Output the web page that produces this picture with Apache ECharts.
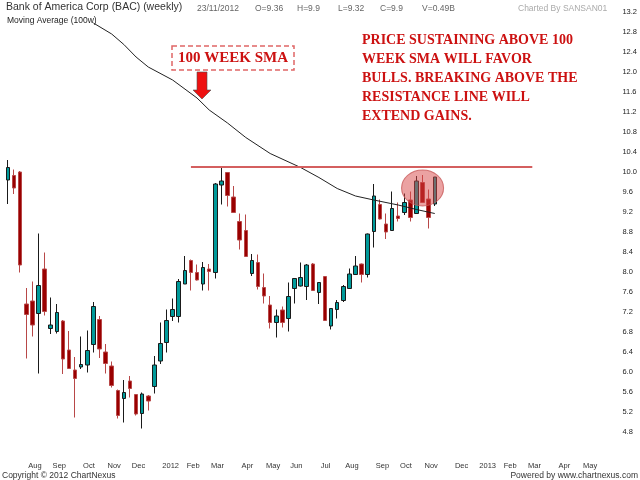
<!DOCTYPE html>
<html><head><meta charset="utf-8">
<script src="https://cdn.jsdelivr.net/npm/echarts@6/dist/echarts.min.js"></script>
<style>html,body{margin:0;padding:0;background:#fff}#c{width:640px;height:480px}</style>
</head><body><div id="c"></div>
<script>
// weekly categories (week-ending Friday)
const weeks = [
'2011-07-22','2011-07-29','2011-08-05','2011-08-12','2011-08-19','2011-08-26','2011-09-02','2011-09-09','2011-09-16','2011-09-23','2011-09-30','2011-10-07','2011-10-14','2011-10-21','2011-10-28','2011-11-04','2011-11-11','2011-11-18','2011-11-25','2011-12-02','2011-12-09','2011-12-16','2011-12-23','2011-12-30',
'2012-01-06','2012-01-13','2012-01-20','2012-01-27','2012-02-03','2012-02-10','2012-02-17','2012-02-24','2012-03-02','2012-03-09','2012-03-16','2012-03-23','2012-03-30','2012-04-06','2012-04-13','2012-04-20','2012-04-27','2012-05-04','2012-05-11','2012-05-18','2012-05-25','2012-06-01','2012-06-08','2012-06-15','2012-06-22','2012-06-29','2012-07-06','2012-07-13','2012-07-20','2012-07-27','2012-08-03','2012-08-10','2012-08-17','2012-08-24','2012-08-31','2012-09-07','2012-09-14','2012-09-21','2012-09-28','2012-10-05','2012-10-12','2012-10-19','2012-10-26','2012-11-02','2012-11-09','2012-11-16','2012-11-23','2012-11-30','2012-12-07','2012-12-14','2012-12-21','2012-12-28',
'2013-01-04','2013-01-11','2013-01-18','2013-01-25','2013-02-01','2013-02-08','2013-02-15','2013-02-22','2013-03-01','2013-03-08','2013-03-15','2013-03-22','2013-03-29','2013-04-05','2013-04-12','2013-04-19','2013-04-26','2013-05-03','2013-05-10','2013-05-17','2013-05-24','2013-05-31'
];
const opens  = [9.84,9.93,10.00,7.36,7.42,7.17,8.06,6.87,6.81,7.02,6.44,6.04,6.10,6.14,6.55,7.05,6.40,6.12,5.63,5.47,5.82,5.55,5.17,5.52,5.71,6.22,6.59,7.11,7.11,7.76,8.23,7.99,7.76,8.06,7.99,9.74,9.99,9.50,9.01,8.83,7.97,8.19,7.69,7.34,6.99,7.24,7.07,7.67,7.72,7.71,8.16,7.59,7.91,6.92,7.25,7.43,7.67,7.95,8.16,7.95,8.81,9.35,8.96,8.83,9.12,9.19,9.44,9.17,9.79,9.46,9.36];
const closes = [10.09,9.68,8.14,7.15,6.94,7.73,7.21,6.94,7.19,6.26,6.07,5.87,6.15,6.43,7.31,6.46,6.17,5.73,5.13,5.59,5.67,5.16,5.56,5.42,6.14,6.57,7.03,7.25,7.81,8.03,7.99,7.84,8.09,8.01,9.76,9.82,9.53,9.19,8.64,8.31,8.23,7.71,7.52,6.99,7.12,6.99,7.51,7.87,7.89,8.14,7.63,7.79,7.03,7.27,7.39,7.71,7.96,8.12,7.95,8.76,9.52,9.06,8.80,9.27,9.07,9.39,9.09,9.82,9.39,9.09,9.90];
const lows   = [9.36,9.56,7.99,6.27,6.71,5.97,7.13,6.76,6.77,5.96,6.06,5.09,6.06,5.99,6.39,6.28,5.97,5.69,5.07,4.99,5.49,5.13,4.87,5.23,5.57,6.16,6.39,7.02,6.99,7.76,7.63,7.83,7.63,7.63,7.87,9.35,9.31,9.19,8.45,8.31,7.92,7.65,7.37,6.87,6.69,6.89,6.81,7.37,7.71,7.44,7.62,7.36,7.02,6.85,7.07,7.40,7.66,7.94,7.79,7.89,8.49,9.05,8.66,8.82,9.01,9.14,9.01,9.16,9.38,8.87,9.32];
const highs  = [10.24,10.05,10.02,7.68,7.81,8.77,8.39,7.49,7.36,7.04,6.82,6.30,6.71,6.83,7.40,7.12,6.56,6.21,5.65,5.84,5.92,5.56,5.59,5.54,6.32,6.99,7.25,7.47,7.86,8.32,8.25,8.15,8.20,8.16,9.78,10.09,10.00,9.72,9.17,9.15,8.36,8.35,7.97,7.52,7.25,7.31,7.79,7.88,8.19,8.16,8.18,7.80,7.92,7.28,7.44,7.74,8.07,8.32,8.17,8.77,9.76,9.45,9.17,9.61,9.39,9.57,9.61,9.92,9.94,9.65,9.90];
// 100-week SMA read at these week indices
const smaWeeks  = [14,17,19,21,23,27,31,33,36,39,43,48,51,54,57,60,64,67,70];
const smaValues = [12.98,12.76,12.55,12.30,12.10,11.84,11.48,11.24,10.98,10.69,10.37,10.09,9.89,9.67,9.52,9.44,9.34,9.25,9.17];
const resistanceLevel = 10.1;
const resistanceSpan = [30, 86];
const highlightPoint = [68, 9.68];
const monthNames = ['', '', 'Feb','Mar','Apr','May','Jun','Jul','Aug','Sep','Oct','Nov','Dec'];
const headerTitle = 'Bank of America Corp (BAC) (weekly)';
const headerFields = ['23/11/2012','O=9.36','H=9.9','L=9.32','C=9.9','V=0.49B'];
const noteText = 'PRICE SUSTAINING ABOVE 100\nWEEK SMA WILL FAVOR\nBULLS. BREAKING ABOVE THE\nRESISTANCE LINE WILL\nEXTEND GAINS.';

const candles = opens.map((o, i) => [o, closes[i], lows[i], highs[i]]);
const sma = smaWeeks.map((w, i) => [w, smaValues[i]]);

function isMonthStart(idx) {
  const d = parseInt(weeks[idx].slice(8, 10), 10);
  return d <= 7;
}
function monthLabel(val) {
  const m = parseInt(val.slice(5, 7), 10);
  return m === 1 ? val.slice(0, 4) : monthNames[m];
}

const sans = '"Liberation Sans", Arial, sans-serif';
const serif = '"Liberation Serif", "Times New Roman", serif';
const hx = [197, 255, 297, 338, 380, 422];

const chart = echarts.init(document.getElementById('c'), null, {renderer: 'canvas'});
chart.setOption({
  backgroundColor: '#fff',
  animation: false,
  grid: {left: 5, right: 35, top: 12, bottom: 48},
  xAxis: {
    type: 'category', data: weeks, boundaryGap: true,
    axisLine: {show: false}, axisTick: {show: false}, splitLine: {show: false},
    axisLabel: {
      interval: (i) => isMonthStart(i),
      formatter: (v) => monthLabel(v),
      align: 'left', padding: [0, 0, 0, 8],
      fontSize: 7.5, color: '#333', fontFamily: sans, margin: 30
    }
  },
  yAxis: {
    type: 'value', position: 'right', min: 4.8, max: 13.2, interval: 0.4, scale: true,
    axisLine: {show: false}, axisTick: {show: false}, splitLine: {show: false},
    axisLabel: {formatter: (v) => v.toFixed(1), margin: 20, fontSize: 7.5, color: '#222', fontFamily: sans, align: 'left'}
  },
  series: [
    {
      type: 'candlestick', data: candles, barWidth: 4,
      itemStyle: {color: '#009a9a', color0: '#990000', borderColor: '#1a1a1a', borderColor0: '#b84848', borderWidth: 1},
      markLine: {
        symbol: 'none', silent: true, animation: false,
        label: {show: false},
        lineStyle: {color: '#d45f5f', width: 2, type: 'solid'},
        data: [[{coord: [weeks[resistanceSpan[0]], resistanceLevel]}, {coord: [weeks[resistanceSpan[1]], resistanceLevel]}]]
      },
      z: 2
    },
    {
      type: 'line', data: sma, showSymbol: false, symbol: 'none', smooth: false,
      lineStyle: {color: '#222', width: 1}, z: 3, silent: true
    },
    {
      type: 'scatter', data: [highlightPoint], symbol: 'circle', symbolSize: [42, 36],
      itemStyle: {color: 'rgba(215,70,70,0.5)', borderColor: 'rgba(200,90,90,0.8)', borderWidth: 1, opacity: 1},
      z: 10, silent: true
    }
  ],
  graphic: [
    {type: 'text', left: 6, top: 2, style: {text: headerTitle, font: '10.5px ' + sans, fill: '#333'}},
    ...headerFields.map((t, i) => ({type: 'text', left: hx[i], top: 4, style: {text: t, font: '8.5px ' + sans, fill: '#666'}})),
    {type: 'text', left: 518, top: 4, style: {text: 'Charted By SANSAN01', font: '8.5px ' + sans, fill: '#aaa'}},
    {type: 'text', left: 7, top: 16, style: {text: 'Moving Average (100w)', font: '8.5px ' + sans, fill: '#222'}},
    {type: 'text', left: 2, top: 471, style: {text: 'Copyright \u00a9 2012 ChartNexus', font: '8.5px ' + sans, fill: '#333'}},
    {type: 'text', right: 2, top: 471, style: {text: 'Powered by www.chartnexus.com', font: '8.5px ' + sans, fill: '#333'}},
    {type: 'rect', shape: {x: 172, y: 46, width: 122, height: 24}, style: {fill: '#fff', stroke: '#e06666', lineWidth: 1.5, lineDash: [5, 3]}, z: 20},
    {type: 'text', x: 233, y: 58, style: {text: '100 WEEK SMA', font: 'bold 15px ' + serif, fill: '#cc1111', align: 'center', verticalAlign: 'middle'}, z: 21},
    {type: 'polygon', shape: {points: [[197,72],[207,72],[207,90],[211,90],[202,99],[193,90],[197,90]]}, style: {fill: '#ee1111', stroke: 'rgba(80,80,80,0.6)', lineWidth: 1}, z: 20},
    {type: 'text', x: 362, y: 31, style: {text: noteText, font: 'bold 14px ' + serif, fill: '#cc1111', lineHeight: 19, verticalAlign: 'top'}, z: 21}
  ]
});
</script></body></html>
